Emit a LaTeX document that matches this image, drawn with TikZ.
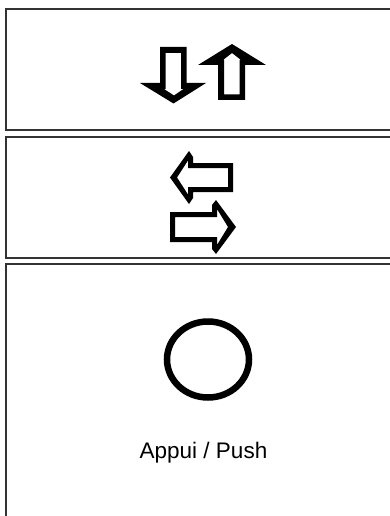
\documentclass[tikz,border=0pt]{standalone}
\usepackage{fontspec}
\setmainfont{Liberation Sans}
\usetikzlibrary{positioning, shapes.geometric}

\begin{document}
\begin{tikzpicture}[
    x=1pt, y=-1pt,
    panel/.style={draw=black!80, line width=1.4pt},
    glyph/.style={fill=black, even odd rule},
    lbl/.style={font=\fontsize{22.5}{27}\selectfont}
  ]
  \useasboundingbox (0,0) rectangle (390,516);
  \clip (0,0) rectangle (390,516);

  % panels
  \draw[panel] (6,9) rectangle (400,130);
  \draw[panel] (6,137) rectangle (400,258);
  \draw[panel] (6,264) rectangle (400,530);

  % down / up
  \fill[glyph] (160,47) -- (186.5,47) -- (186.5,83) -- (206,83) -- (173.5,103.5)
    -- (140,83) -- (160,83) -- cycle
    (165.5,53) -- (181,53) -- (181,89) -- (183.5,89) -- (174,95.5)
    -- (164,89) -- (165.5,89) -- cycle;
  \fill[glyph] (218,100) -- (245,100) -- (245,65) -- (266,65) -- (232,44)
    -- (198,65) -- (218,65) -- cycle
    (224,94.5) -- (239.5,94.5) -- (239.5,60) -- (241,60) -- (232,53)
    -- (223,60) -- (224,60) -- cycle;

  % left / right
  \fill[glyph] (233,163) -- (233,192) -- (193,192) -- (193,198) -- (189,204)
    -- (170,177.5) -- (189,151) -- (193,157) -- (193,163) -- cycle
    (228,168) -- (228,187) -- (188,187) -- (188,194.5) -- (177,177.5)
    -- (188,160.5) -- (188,168) -- cycle;
  \fill[glyph] (170,212) -- (212,212) -- (212,205) -- (216,200) -- (236,227)
    -- (216,254) -- (212,249) -- (212,242) -- (170,242) -- cycle
    (175,217) -- (217,217) -- (217,209) -- (228,227) -- (217,245)
    -- (217,237) -- (175,237) -- cycle;

  % push button
  \node[ellipse, draw, line width=6.5pt, minimum width=82pt,
        minimum height=76pt, inner sep=0pt] (btn) at (208,359.5) {};
  \node[lbl, anchor=base] (push) at (203.5,458) {Appui / Push};
\end{tikzpicture}
\end{document}
